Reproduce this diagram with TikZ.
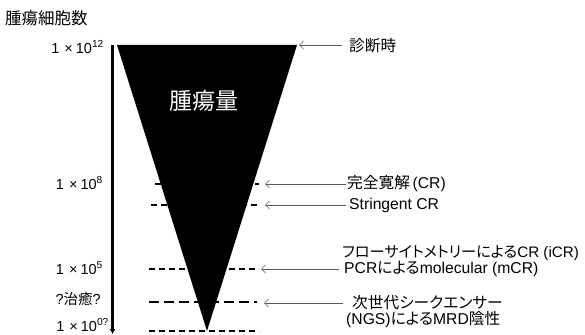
\documentclass[tikz,border=0pt]{standalone}
\usepackage{fontspec}
\setmainfont{Liberation Sans}
\newfontfamily\jpf[RawFeature=+palt]{Noto Sans CJK JP}
\usetikzlibrary{arrows.meta}
\newcommand{\jp}[1]{{\jpf #1}}
\newcommand{\tms}{\hspace{5pt}×\hspace{3pt}}
\begin{document}
\begin{tikzpicture}[x=1pt,y=-1pt,
  lbl/.style={inner sep=0pt,font=\fontsize{15.7}{16}\selectfont},
  axl/.style={inner sep=0pt,anchor=east,font=\fontsize{14.5}{16}\selectfont},
  dl/.style={line width=1.8pt,dash pattern=on 6pt off 4pt},
  ptr/.style={draw=black!65,line width=0.8pt,-{Straight Barb[length=4pt,width=8pt,line width=0.7pt]}}]
\useasboundingbox (0,0) rectangle (585,334);
% title
\node[lbl,anchor=west,font=\fontsize{16.5}{18}\selectfont] (title) at (5,18) {\jp{腫瘍細胞数}};
% axis
\coordinate (atop) at (112.5,45);
\coordinate (abot) at (112.5,334);
\draw[line width=2.2pt,-{Latex[length=5pt,width=6pt]}] (atop) -- (abot);
% triangle
\coordinate (tl) at (117,45);
\coordinate (tr) at (297,45);
\coordinate (ap) at (207,331);
\fill (tl) -- (tr) -- (ap) -- cycle;
\node[text=white,inner sep=0pt,font=\jpf\fontsize{23}{26}\selectfont] (tv) at (204,101) {腫瘍量};
% axis labels
\node[axl] (l12) at (104,47) {1\tms10\textsuperscript{12}};
\node[axl] (l8) at (103,183) {1\tms10\textsuperscript{8}};
\node[axl] (l5) at (103,268) {1\tms10\textsuperscript{5}};
\node[axl] (lq) at (101,299) {?\jp{治癒}?};
\node[axl] (l0) at (109,325) {1\tms10\textsuperscript{0?}};
% dashed lines
\coordinate (d1a) at (155,184); \coordinate (d1b) at (259,184);
\coordinate (d2a) at (151,205); \coordinate (d2b) at (259,205);
\coordinate (d3a) at (149,269); \coordinate (d3b) at (259,269);
\coordinate (d4a) at (149,302); \coordinate (d4b) at (257,302);
\coordinate (d5a) at (149,331); \coordinate (d5b) at (259,331);
\draw[dl] (d1a) -- (d1b);
\draw[dl] (d2a) -- (d2b);
\draw[dl] (d3a) -- (d3b);
\draw[line width=2.6pt,dash pattern=on 10pt off 5pt] (d4a) -- (d4b);
\draw[dl] (d5a) -- (d5b);
% right labels
\node[lbl,anchor=west] (t0) at (349,46) {\jp{診断時}};
\node[lbl,anchor=west] (t1) at (347,184) {\jp{完全寛解}\,(CR)};
\node[lbl,anchor=west] (t2) at (349,205) {Stringent CR};
\node[lbl,anchor=west,font=\fontsize{15.2}{16}\selectfont] (t3a) at (342,253) {\jp{フローサイトメトリーによる}CR (iCR)};
\node[lbl,anchor=west] (t3b) at (344,269) {PCR\jp{による}molecular (mCR)};
\node[lbl,anchor=west] (t4a) at (352,303) {\jp{次世代シークエンサー}};
\node[lbl,anchor=west] (t4b) at (346,320) {(NGS)\jp{による}MRD\jp{陰性}};
% pointers
\coordinate (p0) at (299,45);
\coordinate (p1) at (265,184);
\coordinate (p2) at (265,205);
\coordinate (p3) at (261,269);
\coordinate (p4) at (264,303);
\draw[ptr] (t0.west) ++(-7,-1) -- (p0);
\draw[ptr] (t1.west) ++(-1,0) -- (p1);
\draw[ptr] (t2.west) ++(-3,0) -- (p2);
\draw[ptr] (t3b.west) ++(-5,0) -- (p3);
\draw[ptr] (t4a.west) ++(-9,0) -- (p4);
\end{tikzpicture}
\end{document}
